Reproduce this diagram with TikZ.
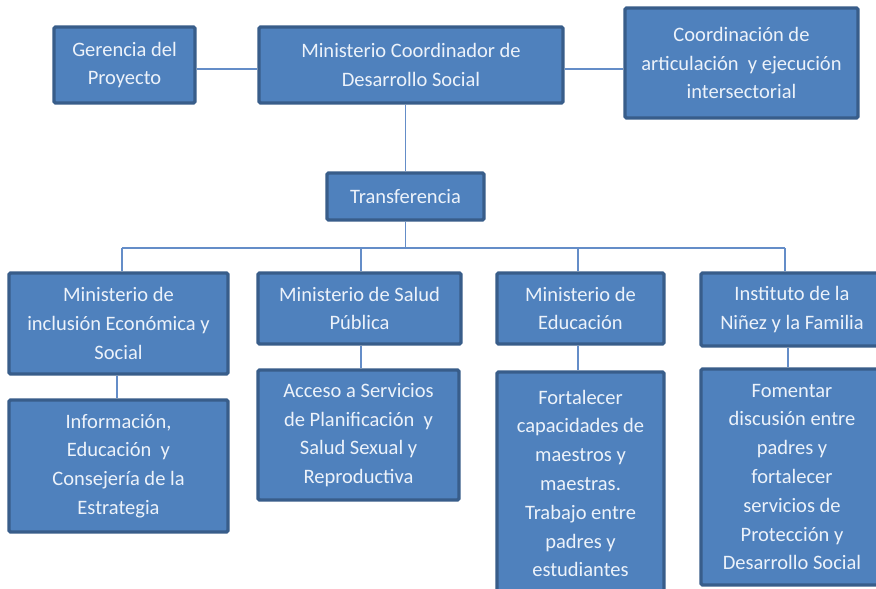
\documentclass[tikz,border=0pt]{standalone}
\usepackage{fontspec}
\setmainfont{Carlito}
\definecolor{cajaFondo}{RGB}{79,129,189}
\definecolor{cajaBorde}{RGB}{56,93,138}
\definecolor{cajaTexto}{RGB}{236,242,250}
\definecolor{linea}{RGB}{100,141,200}
\begin{document}
\begin{tikzpicture}[x=1pt,y=-1pt,
  caja/.style={rectangle, fill=cajaFondo, draw=cajaBorde, line width=3.2pt, rounded corners=1.5pt,
    text=cajaTexto, align=center, inner sep=0pt, font=\fontsize{20.5}{28.8}\selectfont},
  conector/.style={draw=linea, line width=1.6pt}]
\useasboundingbox (0,0) rectangle (876,589);
\clip (0,0) rectangle (876,589);
\fill[white] (0,0) rectangle (876,589);

\node[caja, minimum width=141pt, minimum height=76pt](gerencia) at (124.5,65) {Gerencia del\\Proyecto};
\node[caja, minimum width=304pt, minimum height=76pt](mcds) at (411,65) {Ministerio Coordinador de\\Desarrollo Social};
\node[caja, minimum width=233pt, minimum height=110pt](coordinacion) at (741.5,63) {Coordinación de\\articulación~ y ejecución\\intersectorial};
\node[caja, minimum width=157pt, minimum height=47pt](transferencia) at (405.5,196.5) {Transferencia};

\node[caja, minimum width=219pt, minimum height=101pt](mies) at (118.5,323.5) {Ministerio de\\inclusión Económica y\\Social};
\node[caja, minimum width=203pt, minimum height=71pt](salud) at (359.5,308.5) {Ministerio de Salud\\Pública};
\node[caja, minimum width=167pt, minimum height=71pt](educacion) at (580.5,308.5) {Ministerio de\\Educación};
\node[caja, minimum width=182pt, minimum height=73pt](ninez) at (792,309.5) {Instituto de la\\Niñez y la Familia};

\node[caja, minimum width=219pt, minimum height=132pt](informacion) at (118.5,466) {Información,\\Educación~ y\\Consejería de la\\Estrategia};
\node[caja, minimum width=201pt, minimum height=130pt](acceso) at (358.5,435) {Acceso a Servicios\\de Planificación~ y\\Salud Sexual y\\Reproductiva};
\node[caja, minimum width=167pt, minimum height=223pt](fortalecer) at (580.5,483.5) {Fortalecer\\capacidades de\\maestros y\\maestras.\\Trabajo entre\\padres y\\estudiantes};
\node[caja, minimum width=182pt, minimum height=216pt](fomentar) at (792,477) {Fomentar\\discusión entre\\padres y\\fortalecer\\servicios de\\Protección y\\Desarrollo Social};

\coordinate(bus) at (405.5,248);
\coordinate(busMies) at (122,248);
\coordinate(busSalud) at (361,248);
\coordinate(busEdu) at (578,248);
\coordinate(busNinez) at (785,248);

\draw[conector] ([yshift=-4pt]gerencia.east) -- ([yshift=-4pt]gerencia.east -| mcds.west);
\draw[conector] ([yshift=-4pt]mcds.east) -- ([yshift=-4pt]mcds.east -| coordinacion.west);
\draw[conector] (transferencia.north |- mcds.south) -- (transferencia.north);
\draw[conector] (transferencia.south) -- (bus);
\draw[conector] (busMies) -- (busNinez);
\draw[conector] (busMies) -- (busMies |- mies.north);
\draw[conector] (busSalud) -- (busSalud |- salud.north);
\draw[conector] (busEdu) -- (busEdu |- educacion.north);
\draw[conector] (busNinez) -- (busNinez |- ninez.north);
\draw[conector] (117,0 |- mies.south) -- (117,0 |- informacion.north);
\draw[conector] (361,0 |- salud.south) -- (361,0 |- acceso.north);
\draw[conector] (578,0 |- educacion.south) -- (578,0 |- fortalecer.north);
\draw[conector] (788,0 |- ninez.south) -- (788,0 |- fomentar.north);
\end{tikzpicture}
\end{document}
